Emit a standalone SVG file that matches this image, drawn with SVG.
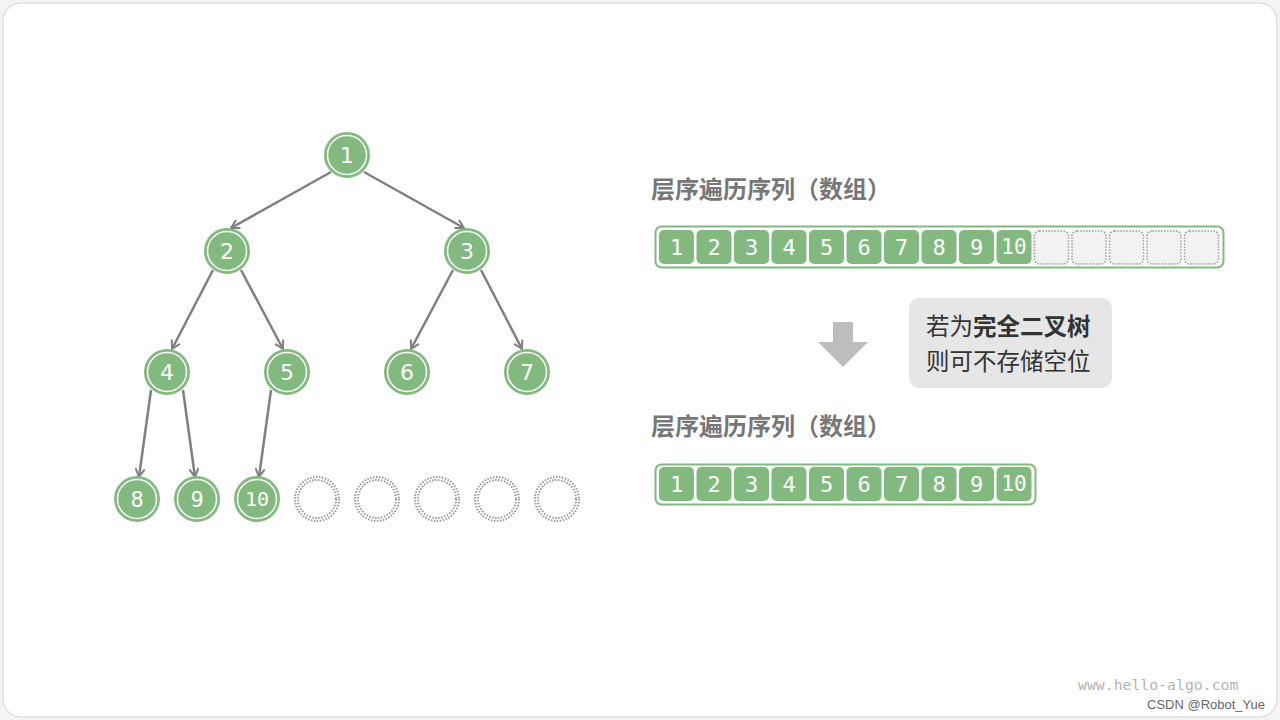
<svg xmlns="http://www.w3.org/2000/svg" width="1280" height="720" viewBox="0 0 1280 720">
<defs>
<marker id="ah" viewBox="0 0 12 12" refX="10.5" refY="6" markerWidth="4.4" markerHeight="4.4" orient="auto" markerUnits="strokeWidth">
<path d="M1.5,1 L10.5,6 L1.5,11" fill="none" stroke="#808080" stroke-width="2.2" stroke-linejoin="miter"/>
</marker>
<style>
.n circle.o{fill:#82b97f;stroke:#82b97f;stroke-width:2}
.n circle.i{fill:none;stroke:#fff;stroke-width:1.5}
.n text{font-family:"DejaVu Sans","Liberation Sans",sans-serif;font-size:22px;fill:#fff;text-anchor:middle;dominant-baseline:central}
.n text.m{font-family:"DejaVu Sans Mono","Liberation Mono",monospace;font-size:20px}
.e circle{fill:none;stroke:#999;stroke-width:2;stroke-dasharray:1.5 1.5}
.c line{stroke:#808080;stroke-width:2.5;marker-end:url(#ah)}
.cell rect{fill:#82b97f;stroke:none}
.cell text{font-family:"DejaVu Sans Mono","Liberation Mono",monospace;font-size:22px;fill:#fff;text-anchor:middle;dominant-baseline:central}
.ecell rect{fill:#f2f2f2;stroke:#999;stroke-width:1.5;stroke-dasharray:1.5 1.5}
.title{font-family:"Noto Sans CJK SC",sans-serif;font-size:24px;font-weight:bold;fill:#777}
.note{font-family:"Noto Sans CJK SC",sans-serif;font-size:23.5px;fill:#333}
</style>
</defs>
<rect x="0" y="0" width="1280" height="720" fill="#f4f4f4"/>
<rect x="3" y="3" width="1274" height="714" rx="18" fill="#fff" stroke="#e0e0e0" stroke-width="1.5"/>

<g id="connectors" class="c">
<line x1="331" y1="172" x2="231" y2="228"/>
<line x1="364" y1="172" x2="464" y2="228"/>
<line x1="213" y1="270" x2="172" y2="349"/>
<line x1="241" y1="270" x2="283" y2="349"/>
<line x1="453" y1="270" x2="411" y2="349"/>
<line x1="481" y1="270" x2="522" y2="349"/>
<line x1="151" y1="390" x2="139" y2="477"/>
<line x1="183" y1="390" x2="195" y2="477"/>
<line x1="271" y1="390" x2="259" y2="477"/>
</g>

<g id="node-1" class="n"><circle class="o" cx="347" cy="155" r="22"/><circle class="i" cx="347" cy="155" r="19.5"/><text x="347" y="155">1</text></g>
<g id="node-2" class="n"><circle class="o" cx="227" cy="251" r="22"/><circle class="i" cx="227" cy="251" r="19.5"/><text x="227" y="251">2</text></g>
<g id="node-3" class="n"><circle class="o" cx="467" cy="251" r="22"/><circle class="i" cx="467" cy="251" r="19.5"/><text x="467" y="251">3</text></g>
<g id="node-4" class="n"><circle class="o" cx="167" cy="372" r="22"/><circle class="i" cx="167" cy="372" r="19.5"/><text x="167" y="372">4</text></g>
<g id="node-5" class="n"><circle class="o" cx="287" cy="372" r="22"/><circle class="i" cx="287" cy="372" r="19.5"/><text x="287" y="372">5</text></g>
<g id="node-6" class="n"><circle class="o" cx="407" cy="372" r="22"/><circle class="i" cx="407" cy="372" r="19.5"/><text x="407" y="372">6</text></g>
<g id="node-7" class="n"><circle class="o" cx="527" cy="372" r="22"/><circle class="i" cx="527" cy="372" r="19.5"/><text x="527" y="372">7</text></g>
<g id="node-8" class="n"><circle class="o" cx="137" cy="499" r="22"/><circle class="i" cx="137" cy="499" r="19.5"/><text class="m" x="137" y="499" style="font-size:22px">8</text></g>
<g id="node-9" class="n"><circle class="o" cx="197" cy="499" r="22"/><circle class="i" cx="197" cy="499" r="19.5"/><text class="m" x="197" y="499" style="font-size:22px">9</text></g>
<g id="node-10" class="n"><circle class="o" cx="257" cy="499" r="22"/><circle class="i" cx="257" cy="499" r="19.5"/><text class="m" x="257" y="499">10</text></g>
<g id="empty-nodes" class="e">
<circle cx="317" cy="499" r="22"/><circle cx="317" cy="499" r="19"/>
<circle cx="377" cy="499" r="22"/><circle cx="377" cy="499" r="19"/>
<circle cx="437" cy="499" r="22"/><circle cx="437" cy="499" r="19"/>
<circle cx="497" cy="499" r="22"/><circle cx="497" cy="499" r="19"/>
<circle cx="557" cy="499" r="22"/><circle cx="557" cy="499" r="19"/>
</g>

<g id="array-1">
<text class="title" x="651" y="198">层序遍历序列（数组）</text>
<rect x="655.5" y="226.5" width="568" height="41" rx="6" fill="#fff" stroke="#82b97f" stroke-width="2"/>
<g class="cell">
<rect x="659" y="230" width="35" height="34" rx="5"/><text x="676.5" y="247">1</text>
<rect x="696.5" y="230" width="35" height="34" rx="5"/><text x="714" y="247">2</text>
<rect x="734" y="230" width="35" height="34" rx="5"/><text x="751.5" y="247">3</text>
<rect x="771.5" y="230" width="35" height="34" rx="5"/><text x="789" y="247">4</text>
<rect x="809" y="230" width="35" height="34" rx="5"/><text x="826.5" y="247">5</text>
<rect x="846.5" y="230" width="35" height="34" rx="5"/><text x="864" y="247">6</text>
<rect x="884" y="230" width="35" height="34" rx="5"/><text x="901.5" y="247">7</text>
<rect x="921.5" y="230" width="35" height="34" rx="5"/><text x="939" y="247">8</text>
<rect x="959" y="230" width="35" height="34" rx="5"/><text x="976.5" y="247">9</text>
<rect x="996.5" y="230" width="35" height="34" rx="5"/><text x="1014" y="247" style="font-size:21px">10</text>
</g>
<g class="ecell">
<rect x="1034.5" y="231" width="34" height="33" rx="5"/>
<rect x="1072" y="231" width="34" height="33" rx="5"/>
<rect x="1109.5" y="231" width="34" height="33" rx="5"/>
<rect x="1147" y="231" width="34" height="33" rx="5"/>
<rect x="1184.5" y="231" width="34" height="33" rx="5"/>
</g>
</g>

<g id="down-arrow">
<polygon points="833,322 853,322 853,342 868,342 843,367 818,342 833,342" fill="#bdbdbd"/>
</g>

<g id="note">
<rect x="909" y="298" width="203" height="90" rx="10" fill="#e6e6e6"/>
<text class="note" x="926" y="335">若为<tspan font-weight="bold">完全二叉树</tspan></text>
<text class="note" x="926" y="370">则可不存储空位</text>
</g>

<g id="array-2">
<text class="title" x="651" y="435">层序遍历序列（数组）</text>
<rect x="655.5" y="464.5" width="380" height="40" rx="6" fill="#fff" stroke="#82b97f" stroke-width="2"/>
<g class="cell">
<rect x="659" y="467" width="35" height="34" rx="5"/><text x="676.5" y="484">1</text>
<rect x="696.5" y="467" width="35" height="34" rx="5"/><text x="714" y="484">2</text>
<rect x="734" y="467" width="35" height="34" rx="5"/><text x="751.5" y="484">3</text>
<rect x="771.5" y="467" width="35" height="34" rx="5"/><text x="789" y="484">4</text>
<rect x="809" y="467" width="35" height="34" rx="5"/><text x="826.5" y="484">5</text>
<rect x="846.5" y="467" width="35" height="34" rx="5"/><text x="864" y="484">6</text>
<rect x="884" y="467" width="35" height="34" rx="5"/><text x="901.5" y="484">7</text>
<rect x="921.5" y="467" width="35" height="34" rx="5"/><text x="939" y="484">8</text>
<rect x="959" y="467" width="35" height="34" rx="5"/><text x="976.5" y="484">9</text>
<rect x="996.5" y="467" width="35" height="34" rx="5"/><text x="1014" y="484" style="font-size:21px">10</text>
</g>
</g>

<text x="1078" y="690" font-family="DejaVu Sans Mono, monospace" font-size="14.8" fill="#b5b5b5">www.hello-algo.com</text>
<text x="1265" y="709" font-family="Liberation Sans, sans-serif" font-size="13" fill="#666" text-anchor="end">CSDN @Robot_Yue</text>
</svg>
